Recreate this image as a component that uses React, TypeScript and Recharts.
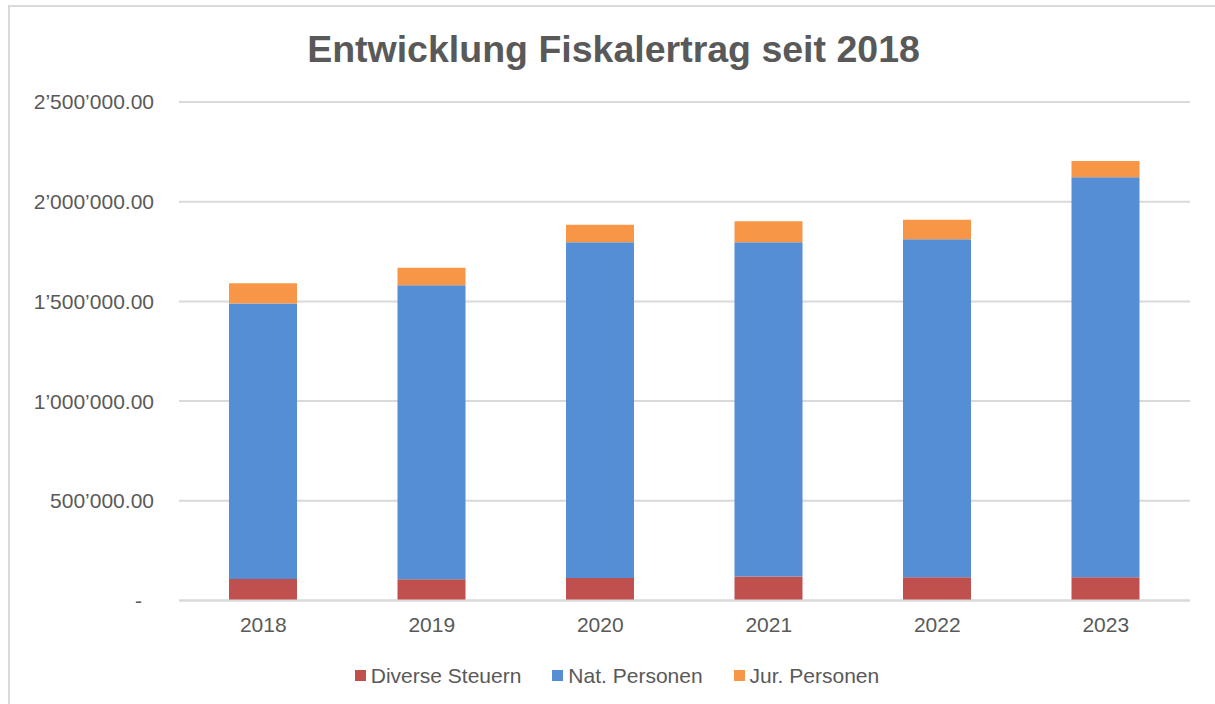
import React from 'react';
import { BarChart, Bar, XAxis, YAxis, CartesianGrid } from 'recharts';

const years = ['2018', '2019', '2020', '2021', '2022', '2023'];
const diverseSteuern = [108000, 107000, 113000, 120000, 117000, 117000];
const natPersonen = [1381000, 1474000, 1684000, 1677000, 1695000, 2006000];
const jurPersonen = [102000, 88000, 88000, 105000, 98000, 81000];
const yTicks = [0, 500000, 1000000, 1500000, 2000000, 2500000];

const seriesNames = ['Diverse Steuern', 'Nat. Personen', 'Jur. Personen'];
const seriesKeys = ['diverse', 'nat', 'jur'];
const seriesColors = ['#C0504D', '#558ED5', '#F79646'];

const titleText = 'Entwicklung Fiskalertrag seit 2018';

const data = years.map((y, i) => ({
  year: y,
  diverse: diverseSteuern[i],
  nat: natPersonen[i],
  jur: jurPersonen[i],
}));

const FONT = '"Liberation Sans", Arial, sans-serif';
const TEXT = '#595959';

function fmt(v: number): string {
  if (v === 0) return '-';
  const s = Math.round(v).toString().replace(/\B(?=(\d{3})+(?!\d))/g, '\u2019');
  return s + '.00';
}

const YTick = (props: any) => {
  const { x, y, payload } = props;
  const isZero = payload.value === 0;
  return (
    <text
      x={x}
      y={y}
      dx={isZero ? -12 : 0}
      dy="0.355em"
      textAnchor="end"
      fill={TEXT}
      fontSize={21}
      fontFamily={FONT}
    >
      {fmt(payload.value)}
    </text>
  );
};

const XTick = (props: any) => {
  const { x, y, payload } = props;
  return (
    <text x={x} y={y} dy="0.71em" textAnchor="middle" fill={TEXT} fontSize={21} fontFamily={FONT}>
      {payload.value}
    </text>
  );
};

export default function App() {
  return (
    <div
      style={{
        position: 'absolute',
        left: 0,
        top: 0,
        width: 1215,
        height: 704,
        overflow: 'hidden',
        background: '#fff',
        fontFamily: FONT,
      }}
    >
      <div
        style={{
          position: 'absolute',
          left: 8,
          top: 5,
          width: 1230,
          height: 730,
          border: '2px solid #d9d9d9',
          boxSizing: 'border-box',
        }}
      />
      <div
        style={{
          position: 'absolute',
          left: 0,
          top: 31,
          width: 1227,
          textAlign: 'center',
          fontSize: 37.5,
          lineHeight: 1,
          fontWeight: 'bold',
          color: TEXT,
          whiteSpace: 'nowrap',
        }}
      >
        {titleText}
      </div>
      <div style={{ position: 'absolute', left: 0, top: 0 }}>
        <BarChart
          width={1215}
          height={704}
          data={data}
          margin={{ top: 102, right: 25, left: 0, bottom: 63.5 }}
          barSize={68}
        >
          <CartesianGrid vertical={false} stroke="#d9d9d9" strokeWidth={2} />
          <XAxis
            dataKey="year"
            axisLine={{ stroke: '#d9d9d9', strokeWidth: 2 }}
            tickLine={false}
            tickMargin={11}
            height={40}
            tick={<XTick />}
          />
          <YAxis
            domain={[0, 2500000]}
            ticks={yTicks}
            axisLine={false}
            tickLine={false}
            tickMargin={19}
            width={179}
            tick={<YTick />}
            interval={0}
          />
          {seriesKeys.map((k, i) => (
            <Bar
              key={k}
              dataKey={k}
              name={seriesNames[i]}
              stackId="a"
              fill={seriesColors[i]}
              isAnimationActive={false}
            />
          ))}
        </BarChart>
      </div>
      <div
        style={{
          position: 'absolute',
          left: 0,
          top: 665,
          width: 1234,
          display: 'flex',
          justifyContent: 'center',
          alignItems: 'center',
          gap: 31,
          fontSize: 21,
          lineHeight: 1,
          color: TEXT,
          whiteSpace: 'nowrap',
        }}
      >
        {seriesNames.map((n, i) => (
          <div key={n} style={{ display: 'flex', alignItems: 'center', gap: 5 }}>
            <div style={{ width: 11, height: 11, background: seriesColors[i] }} />
            <span>{n}</span>
          </div>
        ))}
      </div>
    </div>
  );
}
